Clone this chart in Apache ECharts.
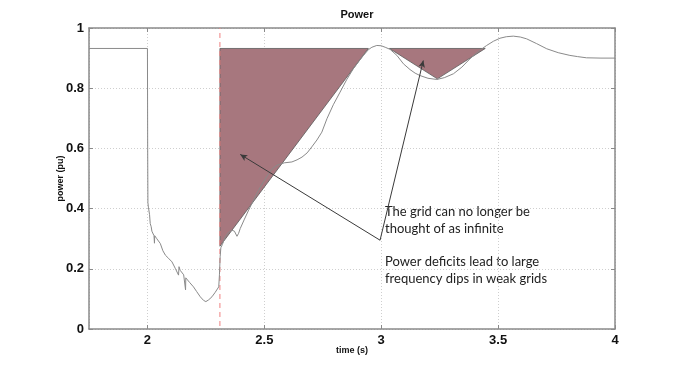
<!DOCTYPE html>
<html>
<head>
<meta charset="utf-8">
<script src="https://cdn.jsdelivr.net/npm/echarts@6/dist/echarts.min.js"></script>
<style>html,body{margin:0;padding:0;background:#fff}#c{width:680px;height:370px}</style>
</head>
<body>
<div id="c"></div>
<script>
// ---- data ----
const timeS = [1.75,2.0,2.001,2.002,2.004,2.006,2.009,2.012,2.016,2.019,2.022,2.028,2.03,2.031,2.04,2.055,2.066,2.077,2.09,2.105,2.12,2.133,2.135,2.14,2.155,2.162,2.163,2.164,2.18,2.197,2.21,2.226,2.24,2.25,2.262,2.276,2.29,2.305,2.308,2.311,2.314,2.32,2.333,2.345,2.362,2.372,2.383,2.39,2.397,2.415,2.433,2.455,2.475,2.497,2.518,2.535,2.554,2.585,2.618,2.64,2.661,2.683,2.703,2.725,2.746,2.768,2.795,2.824,2.852,2.881,2.905,2.924,2.945,2.96,2.981,3.0,3.017,3.038,3.067,3.095,3.123,3.145,3.166,3.2,3.238,3.27,3.309,3.345,3.38,3.415,3.451,3.48,3.508,3.535,3.565,3.595,3.622,3.665,3.708,3.757,3.807,3.84,3.878,3.94,4.0];
const powerPu = [0.932,0.932,0.6,0.42,0.405,0.4,0.38,0.35,0.34,0.325,0.33,0.31,0.285,0.31,0.3,0.284,0.26,0.245,0.235,0.223,0.2,0.179,0.207,0.195,0.18,0.174,0.13,0.17,0.155,0.14,0.125,0.107,0.095,0.091,0.097,0.107,0.122,0.14,0.18,0.24,0.27,0.28,0.306,0.32,0.328,0.325,0.308,0.318,0.334,0.365,0.395,0.43,0.461,0.49,0.516,0.533,0.544,0.552,0.555,0.562,0.571,0.585,0.605,0.628,0.654,0.699,0.745,0.787,0.828,0.865,0.89,0.909,0.928,0.936,0.942,0.941,0.936,0.929,0.909,0.881,0.862,0.85,0.842,0.833,0.829,0.835,0.848,0.87,0.898,0.922,0.942,0.956,0.966,0.971,0.973,0.97,0.964,0.948,0.931,0.918,0.909,0.905,0.901,0.9,0.9];

const deficit1T = [2.31, 2.945, 2.31];
const deficit1V = [0.932, 0.932, 0.275];
const deficit2T = [3.035, 3.445, 3.24];
const deficit2V = [0.932, 0.932, 0.831];

const faultT = [2.31, 2.31];
const faultV = [0.01, 1.0];

const arrowFrom = [2.995, 0.295];
const arrowTo1 = [2.397, 0.580];
const arrowTo2 = [3.180, 0.892];

const xTickLabels = [2, 2.5, 3, 3.5, 4];
const yTickLabels = [0, 0.2, 0.4, 0.6, 0.8, 1];

const titleText = 'Power';
const xName = 'time (s)';
const yName = 'power (pu)';
const note1 = ['The grid can no longer be', 'thought of as infinite'];
const note2 = ['Power deficits lead to large', 'frequency dips in weak grids'];

// ---- chart ----
const chart = echarts.init(document.getElementById('c'), null, {renderer: 'canvas'});
const frame = '#8a8a8a';
const fontFam = 'Liberation Sans, Arial, sans-serif';

function polySeries(ts, vs) {
  return {
    type: 'custom',
    silent: true,
    z: 2,
    data: [0],
    renderItem: function (params, api) {
      const pts = ts.map((t, i) => api.coord([t, vs[i]]));
      return {
        type: 'polygon',
        shape: {points: pts},
        style: {fill: '#a7777e', stroke: '#5a5a5a', lineWidth: 0.8}
      };
    }
  };
}

const labelFmt = v => {
  const r = Math.round(v * 100) / 100;
  return xTickLabels.indexOf(r) >= 0 ? String(r) : '';
};
const yFmt = v => {
  const r = Math.round(v * 100) / 100;
  return yTickLabels.indexOf(r) >= 0 ? String(r) : '';
};

const option = {
  animation: false,
  backgroundColor: '#fff',
  title: {
    text: titleText, left: 352, top: 4, textAlign: 'center',
    textStyle: {fontSize: 11, fontWeight: 'bold', color: '#111', fontFamily: fontFam}
  },
  grid: {left: 89, right: 65, top: 28, bottom: 41},
  xAxis: [{
    type: 'value', min: 1.75, max: 4, splitNumber: 5,
    name: xName, nameLocation: 'middle', nameGap: 17, nameMoveOverlap: false,
    nameTextStyle: {fontSize: 9, fontWeight: 'bold', color: '#111', fontFamily: fontFam},
    axisLine: {show: true, onZero: false, lineStyle: {color: frame, width: 1.5}},
    axisTick: {show: true, inside: true, length: 4, lineStyle: {color: frame}},
    axisLabel: {showMinLabel: false, formatter: labelFmt, margin: 5, fontSize: 13, fontWeight: 'bold', color: '#111', fontFamily: fontFam},
    splitLine: {show: true, lineStyle: {color: '#cfcfcf', type: [1, 2], width: 1}}
  }, {
    type: 'value', min: 1.75, max: 4, splitNumber: 5, position: 'top',
    axisLine: {show: true, onZero: false, lineStyle: {color: frame, width: 1.5}},
    axisTick: {show: true, inside: true, length: 4, lineStyle: {color: frame}},
    axisLabel: {show: false}, splitLine: {show: false}
  }],
  yAxis: [{
    type: 'value', min: 0, max: 1, interval: 0.2,
    name: yName, nameLocation: 'middle', nameGap: 24, nameRotate: 90, nameMoveOverlap: false,
    nameTextStyle: {fontSize: 9, fontWeight: 'bold', color: '#111', fontFamily: fontFam},
    axisLine: {show: true, lineStyle: {color: frame, width: 1.5}},
    axisTick: {show: true, inside: true, length: 4, lineStyle: {color: frame}},
    axisLabel: {formatter: yFmt, margin: 5, fontSize: 13, fontWeight: 'bold', color: '#111', fontFamily: fontFam},
    splitLine: {show: true, lineStyle: {color: '#cfcfcf', type: [1, 2], width: 1}}
  }, {
    type: 'value', min: 0, max: 1, interval: 0.2, position: 'right',
    axisLine: {show: true, lineStyle: {color: frame, width: 1.5}},
    axisTick: {show: true, inside: true, length: 4, lineStyle: {color: frame}},
    axisLabel: {show: false}, splitLine: {show: false}
  }],
  series: [
    polySeries(deficit1T, deficit1V),
    polySeries(deficit2T, deficit2V),
    {
      type: 'line', name: 'fault', silent: true, z: 3,
      data: faultT.map((t, i) => [t, faultV[i]]),
      showSymbol: false, symbol: 'none',
      lineStyle: {color: '#ef8080', width: 1, type: [5, 4]}
    },
    {
      type: 'line', name: 'power', silent: true, z: 4,
      data: timeS.map((t, i) => [t, powerPu[i]]),
      showSymbol: false, symbol: 'none',
      lineStyle: {color: '#8a8a8a', width: 1}
    },
    {
      type: 'line', silent: true, z: 5, data: [],
      markLine: {
        silent: true, animation: false,
        symbol: ['none', 'arrow'], symbolSize: [5, 7],
        label: {show: false},
        lineStyle: {color: '#3a3a3a', width: 1, type: 'solid'},
        emphasis: {disabled: true},
        data: [
          [{coord: arrowFrom}, {coord: arrowTo1}],
          [{coord: arrowFrom}, {coord: arrowTo2}]
        ]
      }
    }
  ],
  graphic: [
    {type: 'text', x: 385, y: 205, silent: true, style: {text: note1[0], font: '13px Lato, sans-serif', fill: '#222'}},
    {type: 'text', x: 385, y: 222, silent: true, style: {text: note1[1], font: '13px Lato, sans-serif', fill: '#222'}},
    {type: 'text', x: 385, y: 255, silent: true, style: {text: note2[0], font: '13px Lato, sans-serif', fill: '#222'}},
    {type: 'text', x: 385, y: 272, silent: true, style: {text: note2[1], font: '13px Lato, sans-serif', fill: '#222'}}
  ]
};
chart.setOption(option);
</script>
</body>
</html>
